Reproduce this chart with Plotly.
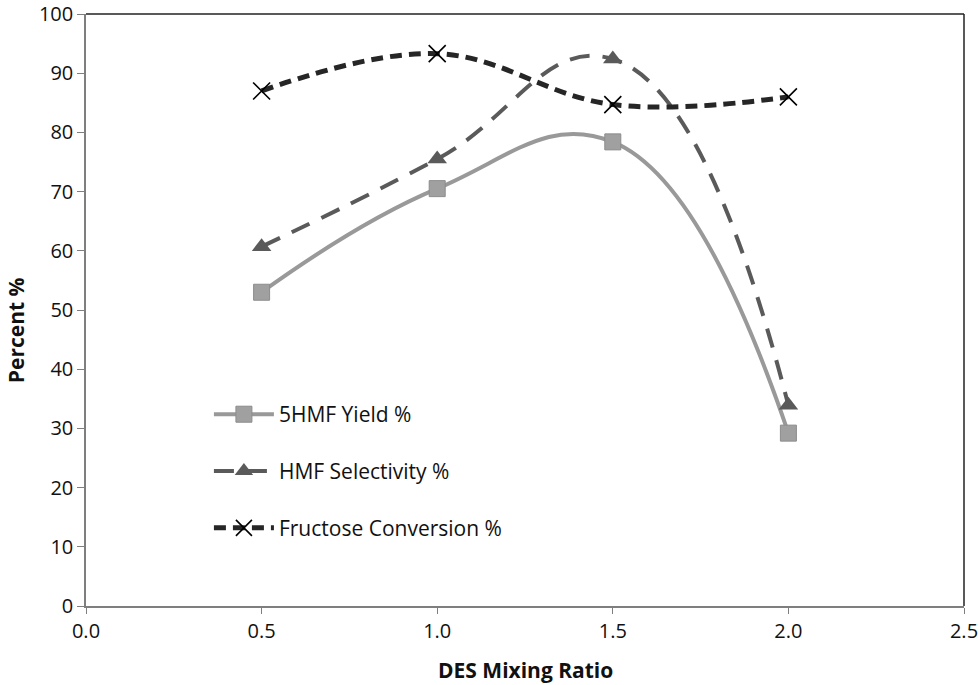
import plotly.graph_objects as go

# DES mixing ratio vs percent
ratio = [0.5, 1.0, 1.5, 2.0]
yield_5hmf = [53.0, 70.5, 78.4, 29.2]
selectivity_hmf = [60.7, 75.5, 92.4, 33.9]
conversion_fru = [87.0, 93.3, 84.7, 86.0]

x_ticks = [0.0, 0.5, 1.0, 1.5, 2.0, 2.5]
y_ticks = [0, 10, 20, 30, 40, 50, 60, 70, 80, 90, 100]

FONT = "Open Sans, Noto Sans, sans-serif"

fig = go.Figure()

fig.add_trace(go.Scatter(
    x=ratio, y=yield_5hmf, name="5HMF Yield %", legendgroup="a",
    mode="lines+markers",
    line=dict(color="#999999", width=4, shape="spline", smoothing=1.25),
    marker=dict(symbol="square", size=16, color="#a0a0a0",
                line=dict(color="#8c8c8c", width=1)),
))
fig.add_trace(go.Scatter(
    x=ratio, y=selectivity_hmf, name="HMF Selectivity %", legendgroup="b",
    mode="lines+markers",
    line=dict(color="#5a5a5a", width=4, shape="spline", smoothing=1.3,
              dash="20px,13px"),
    marker=dict(symbol="triangle-up", size=17, color="#5a5a5a"),
))
fig.add_trace(go.Scatter(
    x=ratio, y=conversion_fru, name="Fructose Conversion %", legendgroup="c",
    mode="lines+markers",
    line=dict(color="#262626", width=5, shape="spline", smoothing=1.1,
              dash="12px,7px"),
    marker=dict(symbol="x-thin", size=17, color="#000000",
                line=dict(color="#000000", width=1.6)),
))

# top/right frame
fig.add_shape(type="line", xref="x domain", yref="y domain",
              x0=0, x1=1, y0=1, y1=1, line=dict(color="#222222", width=1.5))
fig.add_shape(type="line", xref="x domain", yref="y domain",
              x0=1, x1=1, y0=0, y1=1, line=dict(color="#222222", width=1.5))

# axis titles
fig.add_annotation(text="<b>DES Mixing Ratio</b>", xref="paper", yref="paper",
                   x=0.5, y=0, yshift=-64, showarrow=False,
                   xanchor="center", yanchor="middle", font=dict(size=21))
fig.add_annotation(text="<b>Percent %</b>", xref="paper", yref="paper",
                   x=0, y=0.466, xshift=-70, textangle=-90, showarrow=False,
                   xanchor="center", yanchor="middle", font=dict(size=21))

fig.update_layout(
    width=980, height=685,
    margin=dict(l=86, r=16, t=14, b=79),
    paper_bgcolor="white", plot_bgcolor="white",
    font=dict(family=FONT, size=20, color="#111111"),
    showlegend=True,
    legend=dict(x=0.14, y=0.358, xanchor="left", yanchor="top",
                bgcolor="rgba(0,0,0,0)", tracegroupgap=26.5, itemwidth=60,
                font=dict(size=21, family=FONT)),
    xaxis=dict(range=[0, 2.5], tickvals=x_ticks,
               ticktext=[f"{v:.1f}" for v in x_ticks],
               showline=True, linecolor="#7f7f7f", linewidth=1.5,
               ticks="outside", ticklen=6, tickcolor="#7f7f7f",
               showgrid=False, zeroline=False,
               automargin=False, ticklabeloverflow="allow"),
    yaxis=dict(range=[0, 100], tickvals=y_ticks,
               showline=True, linecolor="#7f7f7f", linewidth=1.5,
               ticks="outside", ticklen=7, tickcolor="#7f7f7f",
               showgrid=False, zeroline=False,
               automargin=False, ticklabeloverflow="allow"),
)

fig.write_html("out.html", config={"displayModeBar": False},
               post_script="document.body.style.margin='0';")
